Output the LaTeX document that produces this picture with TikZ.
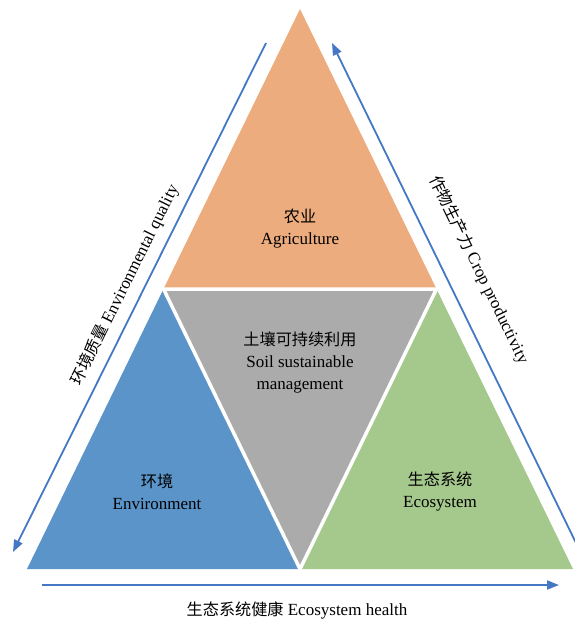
\documentclass[tikz,border=0pt]{standalone}
\usepackage{fontspec}
\setmainfont{Liberation Serif}
\newfontfamily\cjk{Noto Sans CJK SC}[Scale=0.95]
\usetikzlibrary{arrows.meta}
\definecolor{agri}{RGB}{237,172,125}
\definecolor{envc}{RGB}{91,148,201}
\definecolor{soilc}{RGB}{171,171,171}
\definecolor{ecoc}{RGB}{165,201,140}
\definecolor{arrc}{RGB}{68,120,196}
\begin{document}
\begin{tikzpicture}[x=1pt,y=-1pt,
  lbl/.style={align=center,font=\fontsize{17}{22}\selectfont,text=black,inner sep=0pt},
  arr/.style={draw=arrc,line width=1.8pt,-{Triangle[length=12pt,width=9pt]}},
  gap/.style={draw=white,line width=3.5pt,line join=miter}]
\useasboundingbox (0,0) rectangle (574,621);
% triangle corners
\coordinate (T) at (300,9);
\coordinate (BL) at (27,569);
\coordinate (BR) at (573,569);
\coordinate (ML) at (163.5,289);
\coordinate (MR) at (436.5,289);
\coordinate (MB) at (300,569);
% fills
\fill[agri] (T) -- (ML) -- (MR) -- cycle;
\fill[envc] (ML) -- (BL) -- (MB) -- cycle;
\fill[ecoc] (MR) -- (MB) -- (BR) -- cycle;
\fill[soilc] (ML) -- (MR) -- (MB) -- cycle;
\draw[gap] (ML) -- (MR) -- (MB) -- cycle;
% labels inside
\node[lbl] (agl) at (300,228.5) {{\cjk 农业}\\Agriculture};
\node[lbl] (soill) at (300,362) {{\cjk 土壤可持续利用}\\Soil sustainable\\management};
\node[lbl] (envl) at (157,491.5) {{\cjk 环境}\\Environment};
\node[lbl] (ecol) at (440,491.5) {{\cjk 生态系统}\\Ecosystem};
% arrows
\coordinate (la1) at (266,43);
\coordinate (la2) at (13,552);
\coordinate (ra1) at (577,545);
\coordinate (ra2) at (332,43);
\coordinate (ba1) at (42,585);
\coordinate (ba2) at (559,585);
\draw[arr] (la1) -- (la2);
\draw[arr] (ra1) -- (ra2);
\draw[arr] (ba1) -- (ba2);
% arrow labels
\node[lbl,rotate=63.6] (lq) at (125,285) {{\cjk 环境质量} Environmental quality};
\node[lbl,rotate=-64] (rq) at (479,270) {{\cjk 作物生产力} Crop productivity};
\node[lbl] (bq) at (297,610) {{\cjk 生态系统健康} Ecosystem health};
\end{tikzpicture}
\end{document}
